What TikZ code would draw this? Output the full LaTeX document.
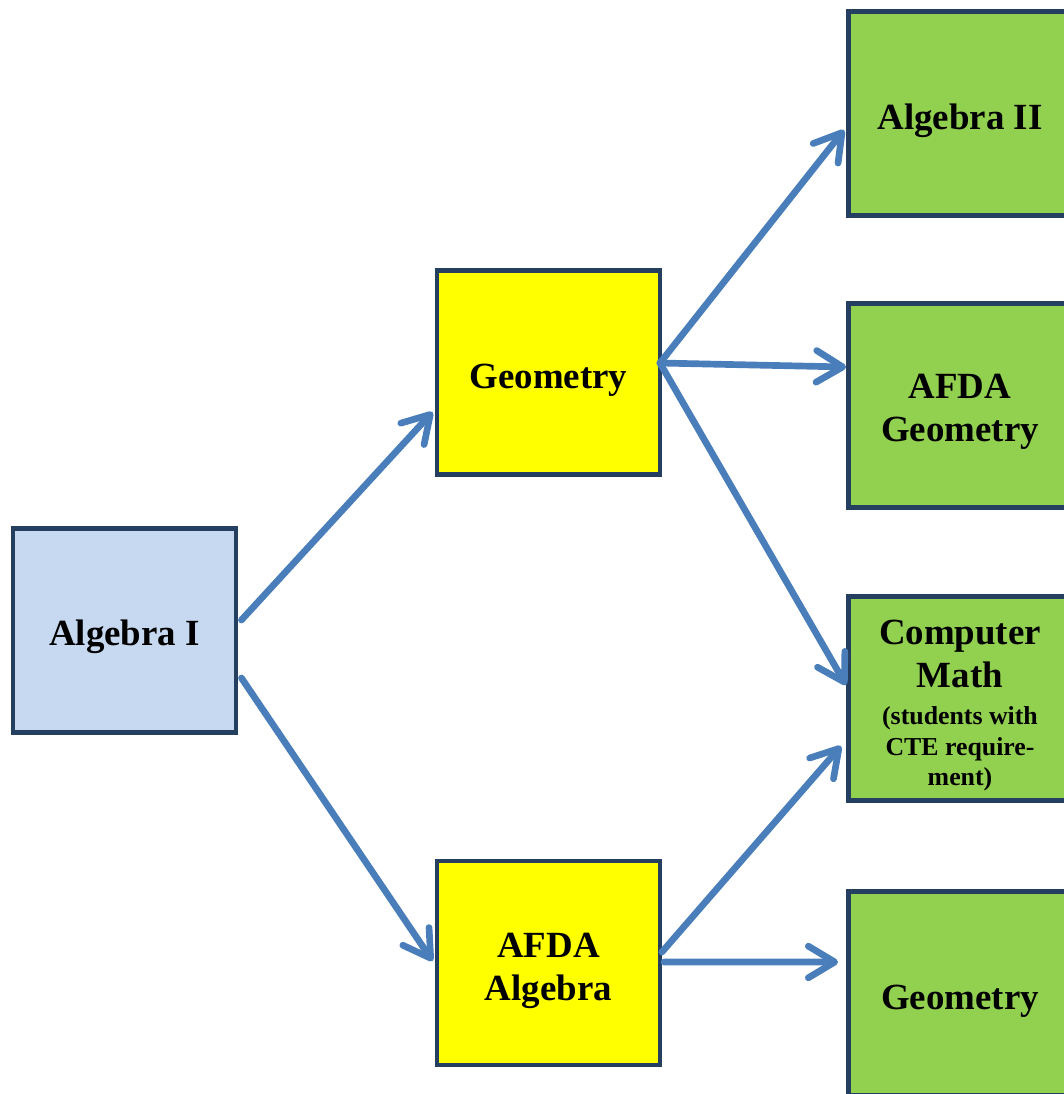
\documentclass[tikz,border=0pt]{standalone}
\usepackage{fontspec}
\setmainfont{Liberation Serif}
\usepackage{xcolor}
\usepackage{tikz}
\usetikzlibrary{arrows.meta,positioning,calc}
\definecolor{boxline}{HTML}{243F60}
\definecolor{algblue}{HTML}{C6D9F1}
\definecolor{geoyellow}{HTML}{FFFF00}
\definecolor{nextgreen}{HTML}{92D050}
\definecolor{flowblue}{HTML}{4A7EBB}
\newcommand{\smalltxt}{\fontsize{14.7}{17}\selectfont}
\begin{document}
\begin{tikzpicture}[box/.style={draw=boxline,line width=2.8pt,minimum width=4.46cm,minimum height=4.08cm,inner sep=0pt},
	boxtext/.style={inner sep=0pt,align=center,font=\bfseries\fontsize{21}{24.5}\selectfont},
	flow/.style={draw=flowblue,line width=3.8pt,line cap=round,-{Straight Barb[length=15pt,width=18pt,round]}}]
		\useasboundingbox (0,0) rectangle (21.26,-21.88);
		\node[box,fill=algblue] (alg1) at (2.49,-12.61) {};
		\node[box,fill=geoyellow] (geo) at (10.97,-7.45) {};
		\node[box,fill=geoyellow] (afdaalg) at (10.97,-19.26) {};
		\node[box,fill=nextgreen] (alg2) at (19.2,-2.27) {};
		\node[box,fill=nextgreen] (afdageo) at (19.2,-8.11) {};
		\node[box,fill=nextgreen] (cmath) at (19.2,-13.97) {};
		\node[box,fill=nextgreen] (geo2) at (19.2,-19.87) {};
		\node[boxtext] (alg1txt) at ([yshift=-0.12cm]alg1) {Algebra I};
		\node[boxtext] (geotxt) at ([yshift=-0.15cm]geo) {Geometry};
		\node[boxtext] (afdaalgtxt) at ([yshift=-0.15cm]afdaalg) {AFDA\\Algebra};
		\node[boxtext] (alg2txt) at ([yshift=-0.15cm]alg2) {Algebra II};
		\node[boxtext] (afdageotxt) at ([yshift=-0.13cm]afdageo) {AFDA\\Geometry};
		\node[boxtext] (cmathtxt) at ([yshift=-0.14cm]cmath) {Computer\\Math\\[-3.4pt]\smalltxt (students with\\[-7.4pt]\smalltxt CTE require-\\[-7.4pt]\smalltxt ment)};
		\node[boxtext] (geo2txt) at ([yshift=-0.15cm]geo2) {Geometry};
		\draw[flow] ([xshift=0.06cm,yshift=0.21cm]alg1.east) -- ([xshift=-0.04cm,yshift=-0.79cm]geo.west);
		\draw[flow] ([xshift=0.06cm,yshift=-0.95cm]alg1.east) -- ([xshift=-0.04cm,yshift=0.04cm]afdaalg.west);
		\draw[flow] ([xshift=-0.05cm,yshift=0.19cm]geo.east) -- ([xshift=-0.04cm,yshift=-0.33cm]alg2.west);
		\draw[flow] ([xshift=-0.05cm,yshift=0.19cm]geo.east) -- ([yshift=0.77cm]afdageo.west);
		\draw[flow] ([xshift=-0.05cm,yshift=0.19cm]geo.east) -- ([yshift=0.27cm]cmath.west);
		\draw[flow] ([xshift=-0.01cm,yshift=0.22cm]afdaalg.east) -- ([xshift=-0.1cm,yshift=-0.95cm]cmath.west);
		\draw[flow] ([xshift=0.03cm,yshift=0.02cm]afdaalg.east) -- ([xshift=-0.16cm,yshift=0.63cm]geo2.west);
\end{tikzpicture}
\end{document}
